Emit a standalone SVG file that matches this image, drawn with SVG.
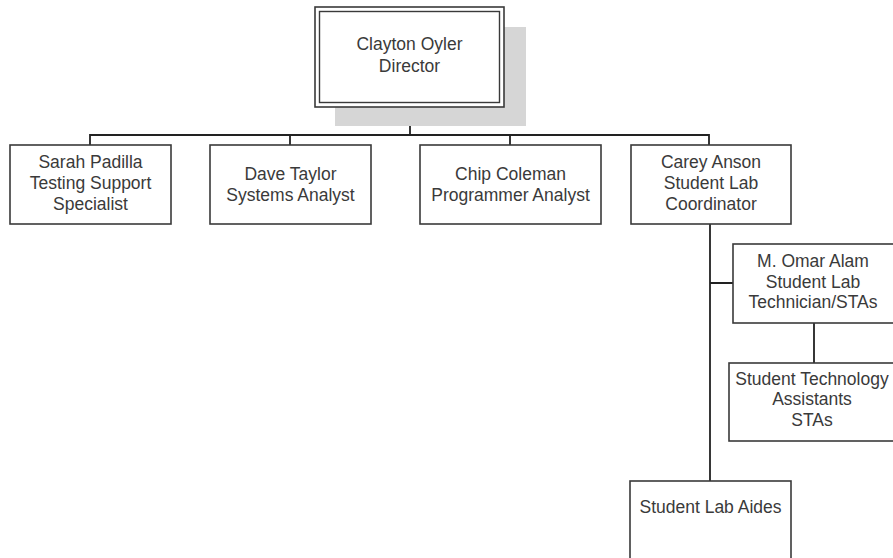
<svg xmlns="http://www.w3.org/2000/svg" width="893" height="558" viewBox="0 0 893 558">
<style>
.box{fill:#fff;stroke:#3a3a3a;stroke-width:1.6}
.t{font-family:"Liberation Sans",Arial,sans-serif;font-size:17.5px;fill:#3a3a3a;text-anchor:middle}
.c{fill:none;stroke:#222;stroke-width:1.8}
</style>
<rect width="893" height="558" fill="#fff"/>
<g id="connectors">
<path class="c" d="M410 107V135M90 145V135H709V145M290 135V145M510 135V145M710 224V481M710 283H733M814 323V363"/>
</g>
<g id="director">
<rect x="335" y="27" width="191" height="99" fill="#d6d6d6"/>
<rect class="box" x="315" y="7" width="189" height="100" stroke-width="2.2"/>
<rect x="319.5" y="11.5" width="180" height="91" fill="none" stroke="#3a3a3a" stroke-width="1.4"/>
<text class="t" x="409.5" y="50">Clayton Oyler</text>
<text class="t" x="409.5" y="72">Director</text>
</g>
<g id="sarah">
<rect class="box" x="10" y="145" width="161" height="79"/>
<text class="t" x="90.5" y="168">Sarah Padilla</text>
<text class="t" x="90.5" y="189">Testing Support</text>
<text class="t" x="90.5" y="210">Specialist</text>
</g>
<g id="dave">
<rect class="box" x="210" y="145" width="161" height="79"/>
<text class="t" x="290.5" y="180">Dave Taylor</text>
<text class="t" x="290.5" y="201">Systems Analyst</text>
</g>
<g id="chip">
<rect class="box" x="420" y="145" width="181" height="79"/>
<text class="t" x="510.5" y="180">Chip Coleman</text>
<text class="t" x="510.5" y="201">Programmer Analyst</text>
</g>
<g id="carey">
<rect class="box" x="631" y="145" width="160" height="79"/>
<text class="t" x="711" y="168">Carey Anson</text>
<text class="t" x="711" y="189">Student Lab</text>
<text class="t" x="711" y="210">Coordinator</text>
</g>
<g id="omar">
<rect class="box" x="733" y="244" width="170" height="79"/>
<text class="t" x="813" y="267">M. Omar Alam</text>
<text class="t" x="813" y="288">Student Lab</text>
<text class="t" x="813" y="308">Technician/STAs</text>
</g>
<g id="sta">
<rect class="box" x="729" y="363" width="174" height="78"/>
<text class="t" x="812" y="385">Student Technology</text>
<text class="t" x="812" y="405">Assistants</text>
<text class="t" x="812" y="426">STAs</text>
</g>
<g id="aides">
<rect class="box" x="630" y="481" width="161" height="90"/>
<text class="t" x="710.5" y="513">Student Lab Aides</text>
</g>
</svg>
